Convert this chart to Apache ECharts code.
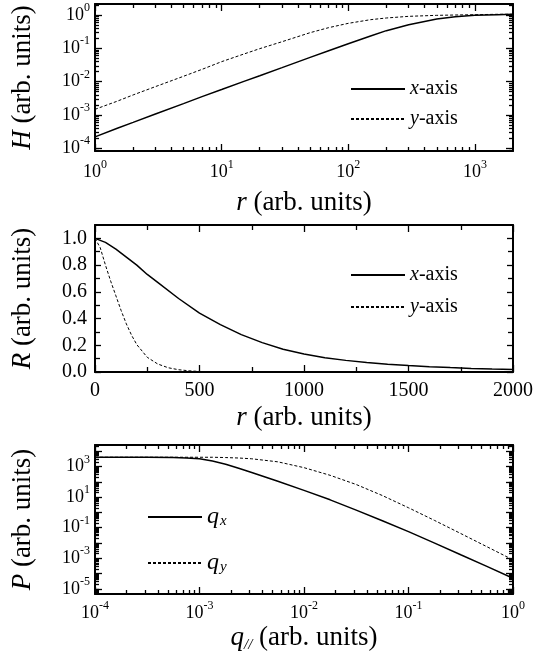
<!DOCTYPE html>
<html><head><meta charset="utf-8">
<script src="https://cdn.jsdelivr.net/npm/echarts@6/dist/echarts.min.js"></script>
<style>html,body{margin:0;padding:0;background:#fff}#c{width:549px;height:664px}</style>
</head><body><div id="c"></div>
<script>
// ---------- Panel 1: H vs r (log-log) ----------
const hR   = [1,1.5,2,3,5,7,10,15,20,30,50,70,100,150,200,300,500,700,1000,1500,2000];
const hXax = [2.2e-4,4.0e-4,6.0e-4,1.07e-3,2.2e-3,3.55e-3,5.8e-3,0.0102,0.0151,0.0263,0.0537,0.085,0.138,0.234,0.339,0.513,0.76,0.89,0.977,1.02,1.05];
const hYax = [1.48e-3,2.6e-3,4.0e-3,7.1e-3,0.0145,0.0234,0.0398,0.0676,0.0977,0.158,0.295,0.417,0.562,0.724,0.813,0.912,0.977,1.0,1.02,1.05,1.05];
const p1XLabels = [0,1,2,3];          // exponents
const p1YLabels = [-4,-3,-2,-1,0];    // exponents

// ---------- Panel 2: R vs r (linear) ----------
const rRx  = [0,50,100,150,200,250,300,400,500,600,700,800,900,1000,1100,1200,1300,1400,1500,1600,1700,1800,1900,2000];
const rXax = [1.0,0.97,0.92,0.86,0.80,0.73,0.67,0.55,0.44,0.355,0.28,0.22,0.17,0.135,0.107,0.087,0.071,0.058,0.048,0.04,0.033,0.027,0.022,0.018];
const rRy  = [0,25,50,75,100,125,150,175,200,250,300,350,400,450,500,600,700];
const rYax = [1.0,0.93,0.80,0.68,0.57,0.46,0.36,0.275,0.205,0.11,0.06,0.032,0.017,0.009,0.004,0.001,0];
const p2XLabels = [0,500,1000,1500,2000];
const p2XMinor  = [250,750,1250,1750];
const p2YLabels = [0,0.2,0.4,0.6,0.8,1.0];
const p2YMinor  = [0.1,0.3,0.5,0.7,0.9];

// ---------- Panel 3: P vs q (log-log) ----------
const pQ  = [1e-4,3.16e-4,5.62e-4,7.5e-4,1e-3,1.33e-3,1.78e-3,2.37e-3,3.16e-3,5.62e-3,1e-2,1.78e-2,3.16e-2,5.62e-2,0.1,0.178,0.316,0.562,1];
const pQx = [3980,3980,3800,3550,3160,2240,1380,759,398,107,27.5,6.6,1.41,0.282,0.055,9.8e-3,1.7e-3,2.95e-4,5.0e-5];
const pQy = [3980,3980,3980,3980,3980,3980,3800,3550,3160,2000,832,263,66,12.6,2.0,0.295,0.0417,5.75e-3,7.9e-4];
const p3XLabels = [-4,-3,-2,-1,0];
const p3YLabels = [-5,-3,-1,1,3];

const FONT = "'Liberation Serif','Times New Roman',serif";
const lg = v => Math.log10(v);
const toPairs = (xs, ys, lx, ly) => xs.map((x,i)=>[lx?lg(x):x, ly?lg(ys[i]):ys[i]]);

function logTicks(lo, hi){
  const major=[], minor=[];
  for(let n=Math.floor(lo); n<=Math.ceil(hi); n++){
    if(n>=lo-1e-9 && n<=hi+1e-9) major.push(n);
    for(let k=2;k<=9;k++){ const v=n+Math.log10(k); if(v>lo+1e-6 && v<hi-1e-6) minor.push(v); }
  }
  return {major, minor};
}

const supFmt = v => '{b|10}{s|' + Math.round(v) + '}';
const supRich = fs => ({
  b:{fontFamily:FONT,fontSize:fs,lineHeight:26,color:'#000'},
  s:{fontFamily:FONT,fontSize:Math.round(fs*0.66),lineHeight:12,verticalAlign:'top',color:'#000'}
});

function ax(grid,pos,min,max,ticks,len,line,label,name){
  const o = {type:'value',gridIndex:grid,position:pos,min:min,max:max,silent:true,
    axisLine:{show:!!line,onZero:false,lineStyle:{color:'#000',width:2}},
    axisTick:{show:true,inside:true,length:len,customValues:ticks,lineStyle:{color:'#000',width:1.3}},
    axisLabel:{show:false},
    splitLine:{show:false},minorTick:{show:false}};
  if(label) o.axisLabel = Object.assign({show:true,color:'#000',fontFamily:FONT},label);
  if(name) Object.assign(o,name);
  return o;
}
function nameOpt(text,gap,rot,extraRich){
  const rich = Object.assign({
    i:{fontFamily:FONT,fontStyle:'italic',fontSize:27,lineHeight:30,color:'#000'},
    t:{fontFamily:FONT,fontSize:27,lineHeight:30,color:'#000'}
  }, extraRich||{});
  return {name:text,nameLocation:'middle',nameGap:gap,nameRotate:rot,
    nameTextStyle:{fontFamily:FONT,fontSize:27,lineHeight:30,color:'#000',rich:rich}};
}

const xAxes=[], yAxes=[];
// Panel 1
const p1xr=[0,lg(2000)], p1yr=[-4.08,0.33];
const t1x=logTicks(p1xr[0],p1xr[1]), t1y=logTicks(p1yr[0],p1yr[1]);
xAxes.push(ax(0,'bottom',p1xr[0],p1xr[1],t1x.major,7,true,
  {customValues:p1XLabels,formatter:supFmt,margin:8,rich:supRich(18)},
  nameOpt('{i|r}{t| (arb. units)}',37,0)));
xAxes.push(ax(0,'bottom',p1xr[0],p1xr[1],t1x.minor,4,false));
xAxes.push(ax(0,'top',p1xr[0],p1xr[1],t1x.major,7,true));
xAxes.push(ax(0,'top',p1xr[0],p1xr[1],t1x.minor,4,false));
yAxes.push(ax(0,'left',p1yr[0],p1yr[1],t1y.major,7,true,
  {customValues:p1YLabels,formatter:supFmt,margin:5,rich:supRich(18)},
  nameOpt('{i|H}{t| (arb. units)}',57,90)));
yAxes.push(ax(0,'left',p1yr[0],p1yr[1],t1y.minor,4,false));
yAxes.push(ax(0,'right',p1yr[0],p1yr[1],t1y.major,7,true));
yAxes.push(ax(0,'right',p1yr[0],p1yr[1],t1y.minor,4,false));
// Panel 2
xAxes.push(ax(1,'bottom',0,2000,p2XLabels,7,true,
  {customValues:p2XLabels,margin:9,fontSize:20,formatter:v=>String(Math.round(v))},
  nameOpt('{i|r}{t| (arb. units)}',31,0)));
xAxes.push(ax(1,'bottom',0,2000,p2XMinor,5,false));
xAxes.push(ax(1,'top',0,2000,p2XLabels,7,true));
xAxes.push(ax(1,'top',0,2000,p2XMinor,5,false));
yAxes.push(ax(1,'left',0,1.1,p2YLabels,6,true,
  {customValues:p2YLabels,margin:8,fontSize:20,formatter:v=>v.toFixed(1)},
  nameOpt('{i|R}{t| (arb. units)}',57,90)));
yAxes.push(ax(1,'left',0,1.1,p2YMinor,5,false));
yAxes.push(ax(1,'right',0,1.1,p2YLabels,6,true));
yAxes.push(ax(1,'right',0,1.1,p2YMinor,5,false));
// Panel 3
const p3xr=[-4,0], p3yr=[-5.33,4.4];
const t3x=logTicks(p3xr[0],p3xr[1]), t3y=logTicks(p3yr[0],p3yr[1]);
xAxes.push(ax(2,'bottom',p3xr[0],p3xr[1],t3x.major,7,true,
  {customValues:p3XLabels,formatter:supFmt,margin:6,rich:supRich(18)},
  nameOpt('{i|q}{sub|//}{t| (arb. units)}',29,0,
    {sub:{fontFamily:FONT,fontStyle:'italic',fontSize:15,lineHeight:14,verticalAlign:'bottom',color:'#000'}})));
xAxes.push(ax(2,'bottom',p3xr[0],p3xr[1],t3x.minor,4,false));
xAxes.push(ax(2,'top',p3xr[0],p3xr[1],t3x.major,7,true));
xAxes.push(ax(2,'top',p3xr[0],p3xr[1],t3x.minor,4,false));
yAxes.push(ax(2,'left',p3yr[0],p3yr[1],t3y.major,7,true,
  {customValues:p3YLabels,formatter:supFmt,margin:5,rich:supRich(18)},
  nameOpt('{i|P}{t| (arb. units)}',57,90)));
yAxes.push(ax(2,'left',p3yr[0],p3yr[1],t3y.minor,4,false));
yAxes.push(ax(2,'right',p3yr[0],p3yr[1],t3y.major,7,true));
yAxes.push(ax(2,'right',p3yr[0],p3yr[1],t3y.minor,4,false));

const solid = {color:'#000',width:1.5,type:'solid'};
const dashed = {color:'#000',width:1,type:[3,2]};
function ser(name,xi,yi,data,ls){
  return {type:'line',name:name,xAxisIndex:xi,yAxisIndex:yi,data:data,symbol:'none',showSymbol:false,
    smooth:false,color:'#000',lineStyle:ls,silent:true,animation:false};
}

const legText = {fontFamily:FONT,fontSize:20,lineHeight:20,color:'#000',
  rich:{i:{fontFamily:FONT,fontStyle:'italic',fontSize:20,lineHeight:20,color:'#000'}}};
const legBase = {orient:'vertical',padding:0,itemWidth:54,itemHeight:20,selectedMode:false,
  itemStyle:{opacity:0},textStyle:legText};

const option = {
  animation:false,
  backgroundColor:'#fff',
  grid:[
    {left:92,right:36,top:4,height:147},
    {left:92,right:36,top:225,height:147},
    {left:92,right:36,top:445,height:149}
  ],
  xAxis:xAxes,
  yAxis:yAxes,
  legend:[
    Object.assign({},legBase,{data:['x-axis','y-axis'],left:350,top:79,itemGap:10,
      formatter:n=>'{i|'+n[0]+'}'+n.slice(1)}),
    Object.assign({},legBase,{data:['x-axis','y-axis'],left:350,top:265,itemGap:12,
      formatter:n=>'{i|'+n[0]+'}'+n.slice(1)}),
    Object.assign({},legBase,{data:['qx','qy'],left:147,top:505,itemGap:22,itemHeight:25,
      formatter:n=>'{i|q}{sub|'+n[1]+'}',
      textStyle:{fontFamily:FONT,fontSize:24,lineHeight:24,color:'#000',
        rich:{i:{fontFamily:FONT,fontStyle:'italic',fontSize:24,lineHeight:24,color:'#000'},
              sub:{fontFamily:FONT,fontStyle:'italic',fontSize:15,lineHeight:12,verticalAlign:'bottom',color:'#000',padding:[0,0,0,1]}}}})
  ],
  series:[
    ser('x-axis',0,0,toPairs(hR,hXax,true,true),solid),
    ser('y-axis',0,0,toPairs(hR,hYax,true,true),dashed),
    ser('x-axis',4,4,toPairs(rRx,rXax,false,false),solid),
    ser('y-axis',4,4,toPairs(rRy,rYax,false,false),dashed),
    ser('qx',8,8,toPairs(pQ,pQx,true,true),solid),
    ser('qy',8,8,toPairs(pQ,pQy,true,true),dashed)
  ]
};
const chart = echarts.init(document.getElementById('c'),null,{renderer:'canvas'});
chart.setOption(option);
</script>
</body></html>
